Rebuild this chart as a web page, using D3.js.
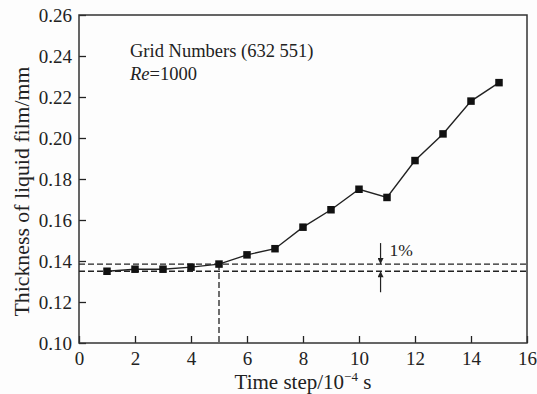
<!DOCTYPE html>
<html><head><meta charset="utf-8">
<script src="https://cdn.jsdelivr.net/npm/d3@7"></script>
<style>body{margin:0;background:#fff}svg{display:block}</style>
</head><body>
<script>
const timeSteps = [1,2,3,4,5,6,7,8,9,10,11,12,13,14,15];
const thickness = [0.135,0.136,0.136,0.137,0.1385,0.143,0.146,0.1565,0.165,0.175,0.171,0.189,0.202,0.218,0.227];
const xTicks = [0,2,4,6,8,10,12,14,16];
const yTicks = [0.10,0.12,0.14,0.16,0.18,0.20,0.22,0.24,0.26];
const bandValues = [0.135,0.1385];
const convergedStep = 5;
const arrowStep = 10.77;

const W=537,H=394;
const m={l:79,r:10,t:15,b:51};
const svg=d3.select("body").append("svg").attr("width",W).attr("height",H);
svg.append("rect").attr("width",W).attr("height",H).attr("fill","#fdfdfd");
const x=d3.scaleLinear().domain([0,16]).range([m.l,W-m.r]);
const y=d3.scaleLinear().domain([0.10,0.26]).range([H-m.b,m.t]);
const ink="#222";
const serif="'Liberation Serif','Times New Roman',serif";

// axes
const xa=svg.append("g").attr("transform",`translate(0,${y(0.10)})`)
  .call(d3.axisBottom(x).tickValues(xTicks).tickSizeInner(-7).tickSizeOuter(0).tickPadding(9).tickFormat(d3.format("d")));
const ya=svg.append("g").attr("transform",`translate(${x(0)},0)`)
  .call(d3.axisLeft(y).tickValues(yTicks).tickSizeInner(-7).tickSizeOuter(0).tickPadding(7).tickFormat(d3.format(".2f")));
[xa,ya].forEach(g=>{
  g.selectAll("path").remove();
  g.selectAll("line").attr("stroke",ink).attr("stroke-width",1.3);
  g.selectAll("text").attr("fill",ink).style("font-family",serif).style("font-size","19px");
});
// frame
svg.append("rect").attr("x",x(0)).attr("y",y(0.26)).attr("width",x(16)-x(0)).attr("height",y(0.10)-y(0.26))
  .attr("fill","none").attr("stroke","#333").attr("stroke-width",1.5);

// dashed reference lines
bandValues.forEach(v=>{
  svg.append("line").attr("x1",x(0)).attr("x2",x(16)).attr("y1",y(v)).attr("y2",y(v))
    .attr("stroke",ink).attr("stroke-width",1.3).attr("stroke-dasharray","6,3");
});
svg.append("line").attr("x1",x(convergedStep)).attr("x2",x(convergedStep)).attr("y1",y(bandValues[1])).attr("y2",y(0.10))
  .attr("stroke",ink).attr("stroke-width",1.3).attr("stroke-dasharray","6,3");

// arrows
const defs=svg.append("defs");
defs.append("marker").attr("id","ah").attr("viewBox","0 0 10 10").attr("refX",10).attr("refY",5)
  .attr("markerWidth",7).attr("markerHeight",6).attr("markerUnits","userSpaceOnUse").attr("orient","auto")
  .append("path").attr("d","M0,0 L10,5 L0,10 Z").attr("fill",ink);
svg.append("line").attr("x1",x(arrowStep)).attr("x2",x(arrowStep)).attr("y1",y(bandValues[1])-21).attr("y2",y(bandValues[1]))
  .attr("stroke",ink).attr("stroke-width",1.2).attr("marker-end","url(#ah)");
svg.append("line").attr("x1",x(arrowStep)).attr("x2",x(arrowStep)).attr("y1",y(bandValues[0])+21).attr("y2",y(bandValues[0]))
  .attr("stroke",ink).attr("stroke-width",1.2).attr("marker-end","url(#ah)");
svg.append("text").attr("x",x(arrowStep)+9).attr("y",y(bandValues[1])-8).text("1%")
  .attr("fill",ink).style("font-family",serif).style("font-size","17.5px");

// data line
svg.append("path").datum(timeSteps.map((t,i)=>[t,thickness[i]]))
  .attr("d",d3.line().x(d=>x(d[0])).y(d=>y(d[1])))
  .attr("fill","none").attr("stroke",ink).attr("stroke-width",1.4);
svg.selectAll("rect.pt").data(timeSteps).enter().append("rect").attr("class","pt")
  .attr("x",(d)=>x(d)-3.75).attr("y",(d,i)=>y(thickness[i])-3.75).attr("width",7.5).attr("height",7.5).attr("fill","#111");

// annotations
svg.append("text").attr("x",130).attr("y",57).text("Grid Numbers (632 551)")
  .attr("fill",ink).style("font-family",serif).style("font-size","18.5px");
const re=svg.append("text").attr("x",130).attr("y",80).attr("fill",ink).style("font-family",serif).style("font-size","18.5px");
re.append("tspan").text("Re").style("font-style","italic");
re.append("tspan").text("=1000");

// axis titles
const xt=svg.append("text").attr("x",(x(0)+x(16))/2).attr("y",389).attr("text-anchor","middle")
  .attr("fill",ink).style("font-family",serif).style("font-size","21px");
xt.append("tspan").text("Time step/10");
xt.append("tspan").text("\u22124").attr("dy",-8).style("font-size","13px");
xt.append("tspan").text(" s").attr("dy",8);
svg.append("text").attr("transform",`translate(29,191.5) rotate(-90)`).attr("text-anchor","middle")
  .attr("fill",ink).style("font-family",serif).style("font-size","21.8px").text("Thickness of liquid film/mm");
</script>
</body></html>
